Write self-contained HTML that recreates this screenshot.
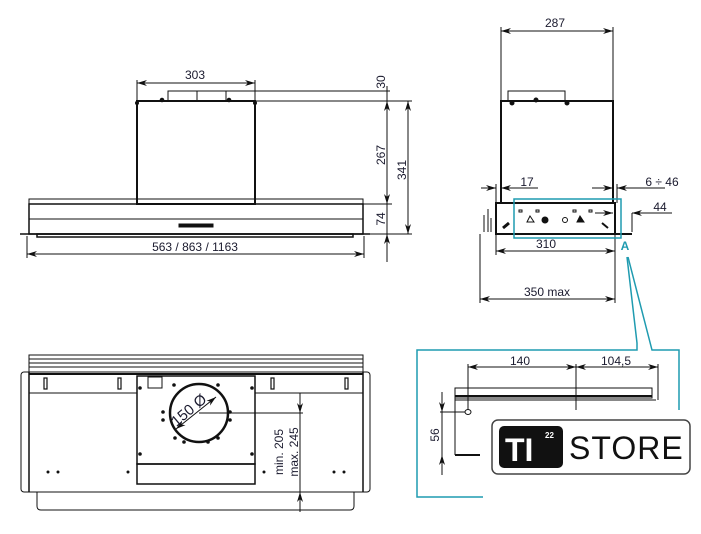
<!DOCTYPE html>
<html><head><meta charset="utf-8"><style>
html,body{margin:0;padding:0;background:#fff;width:701px;height:534px;overflow:hidden}
svg{display:block}
text{font-family:"Liberation Sans",sans-serif;fill:#1a1a2e;font-size:12px}
</style></head><body>
<svg width="701" height="534" viewBox="0 0 701 534" xmlns="http://www.w3.org/2000/svg">
<defs>
<marker id="a" viewBox="0 0 10 6" refX="10" refY="3" markerWidth="10" markerHeight="6" orient="auto-start-reverse" markerUnits="userSpaceOnUse"><path d="M0,0 L10,3 L0,6 L3,3z" fill="#111"/></marker>
</defs>
<g stroke="#111" fill="none" stroke-width="1">
<!-- TOP LEFT front view -->
<rect x="137" y="101" width="118" height="103" stroke-width="2"/>
<rect x="168" y="91" width="58" height="10"/>
<line x1="197" y1="91" x2="197" y2="101"/>
<rect x="29" y="199" width="334" height="5"/>
<rect x="29" y="204" width="334" height="30" stroke-width="1.5"/>
<line x1="29" y1="219" x2="363" y2="219"/>
<rect x="37" y="234" width="316" height="3" stroke-width="1.5"/>
<line x1="20" y1="234" x2="370" y2="234" stroke-width="1.5"/>
<rect x="179" y="224" width="34" height="3" fill="#111"/>
<line x1="137" y1="83" x2="255" y2="83" marker-start="url(#a)" marker-end="url(#a)"/>
<line x1="137" y1="80" x2="137" y2="101"/><line x1="255" y1="80" x2="255" y2="101"/>
<line x1="27" y1="254" x2="364" y2="254" marker-start="url(#a)" marker-end="url(#a)"/>
<line x1="27" y1="236" x2="27" y2="258"/><line x1="364" y1="236" x2="364" y2="258"/>
<line x1="226" y1="91" x2="390" y2="91"/><line x1="255" y1="101" x2="412" y2="101"/>
<line x1="363" y1="204" x2="392" y2="204"/><line x1="370" y1="234" x2="412" y2="234"/>
<line x1="387" y1="86" x2="387" y2="262"/>
<line x1="387" y1="101" x2="387" y2="204" marker-start="url(#a)" marker-end="url(#a)"/>
<line x1="387" y1="234" x2="387" y2="248" marker-start="url(#a)"/>
<line x1="408" y1="101" x2="408" y2="234" marker-start="url(#a)" marker-end="url(#a)"/>
<!-- TOP RIGHT side view -->
<rect x="501" y="101" width="112" height="102" stroke-width="2"/>
<rect x="508" y="91" width="57" height="10"/>
<line x1="501" y1="31" x2="613" y2="31" marker-start="url(#a)" marker-end="url(#a)"/>
<line x1="501" y1="27" x2="501" y2="101"/><line x1="613" y1="27" x2="613" y2="101"/>
<rect x="496" y="203" width="119" height="31" stroke-width="2"/>
<line x1="595" y1="234" x2="632" y2="234" stroke-width="2"/>
<line x1="481" y1="188" x2="496" y2="188" marker-end="url(#a)"/>
<line x1="501" y1="188" x2="538" y2="188" marker-start="url(#a)"/>
<line x1="592" y1="188" x2="613" y2="188" marker-end="url(#a)"/>
<line x1="617" y1="188" x2="665" y2="188" marker-start="url(#a)"/>
<line x1="496" y1="184" x2="496" y2="203"/><line x1="617" y1="184" x2="617" y2="203"/>
<line x1="595" y1="213" x2="613" y2="213" marker-end="url(#a)"/>
<line x1="632" y1="213" x2="672" y2="213" marker-start="url(#a)"/>
<line x1="632" y1="213" x2="632" y2="232"/>
<line x1="496" y1="251" x2="615" y2="251" marker-start="url(#a)" marker-end="url(#a)"/>
<line x1="480" y1="299" x2="615" y2="299" marker-start="url(#a)" marker-end="url(#a)"/>
<line x1="480" y1="234" x2="480" y2="303"/><line x1="615" y1="234" x2="615" y2="303"/>
<line x1="496" y1="234" x2="496" y2="255"/>
<line x1="484" y1="215" x2="484" y2="232"/><line x1="488" y1="209" x2="488" y2="232"/><line x1="491" y1="218" x2="491" y2="232"/>
<circle cx="545" cy="220" r="3" fill="#111"/><circle cx="565" cy="220" r="2.5"/>
<path d="M527,222 l3,-6 l4,6z"/><path d="M577,222 l3,-6 l4,6z" fill="#111"/>
<rect x="519" y="210" width="3" height="2"/><rect x="536" y="210" width="3" height="2"/>
<rect x="573" y="210" width="3" height="2"/><rect x="589" y="210" width="3" height="2"/>
<path d="M503,228 l6,-5" stroke-width="3"/><path d="M602,223 l6,5" stroke-width="2"/>
<circle cx="512" cy="103" r="2" fill="#111"/><circle cx="567" cy="103" r="2" fill="#111"/><circle cx="536" cy="100" r="2" fill="#111"/>
<circle cx="162" cy="100" r="1.8" fill="#111"/><circle cx="229" cy="100" r="1.8" fill="#111"/>
<circle cx="137" cy="103" r="1.5" fill="#111"/><circle cx="255" cy="103" r="1.5" fill="#111"/>
<!-- BOTTOM LEFT plan -->
<rect x="29" y="355" width="334" height="17"/>
<line x1="29" y1="359" x2="363" y2="359"/><line x1="29" y1="363" x2="363" y2="363"/><line x1="29" y1="367" x2="363" y2="367"/>
<rect x="21" y="372" width="349" height="120" rx="3"/>
<line x1="29" y1="372" x2="29" y2="492" stroke-width="1.5"/><line x1="363" y1="372" x2="363" y2="492" stroke-width="1.5"/>
<line x1="29" y1="374" x2="363" y2="374" stroke-width="2"/>
<path d="M37,492 V506 q0,4 4,4 H350 q4,0 4,-4 V492"/>
<line x1="29" y1="393" x2="137" y2="393"/><line x1="255" y1="393" x2="363" y2="393"/>
<g stroke-width="1.2">
<rect x="44" y="378" width="3" height="11"/><rect x="118" y="378" width="3" height="11"/>
<rect x="271" y="378" width="3" height="11"/><rect x="345" y="378" width="3" height="11"/>
</g>
<g fill="#111" stroke="none">
<circle cx="48" cy="472" r="1.5"/><circle cx="58" cy="472" r="1.5"/><circle cx="128" cy="472" r="1.5"/>
<circle cx="264" cy="472" r="1.5"/><circle cx="334" cy="472" r="1.5"/><circle cx="344" cy="472" r="1.5"/>
<circle cx="163" cy="412" r="1.8"/><circle cx="163" cy="420" r="1.8"/><circle cx="230" cy="412" r="1.8"/><circle cx="230" cy="420" r="1.8"/>
<circle cx="175" cy="438" r="1.8"/><circle cx="184" cy="442" r="1.8"/><circle cx="208" cy="442" r="1.8"/><circle cx="218" cy="438" r="1.8"/>
<circle cx="174" cy="385" r="1.8"/><circle cx="218" cy="385" r="1.8"/>
<circle cx="140" cy="388" r="1.8"/><circle cx="252" cy="388" r="1.8"/><circle cx="140" cy="454" r="1.8"/><circle cx="252" cy="454" r="1.8"/>
</g>
<rect x="137" y="376" width="118" height="88" stroke-width="1.5"/>
<rect x="137" y="464" width="118" height="20" stroke-width="1.5"/>
<rect x="148" y="377" width="14" height="11"/>
<circle cx="199" cy="413" r="29" stroke-width="2.5"/>
<line x1="176" y1="429" x2="216" y2="397" marker-start="url(#a)" marker-end="url(#a)"/>
<line x1="199" y1="413" x2="303" y2="413"/>
<line x1="300" y1="393" x2="300" y2="512"/>
<line x1="300" y1="393" x2="300" y2="413" marker-end="url(#a)"/>
<line x1="300" y1="492" x2="300" y2="506" marker-start="url(#a)"/>
<!-- DETAIL -->
<rect x="455" y="388" width="197" height="10"/>
<line x1="455" y1="396" x2="652" y2="396" stroke-width="2"/>
<line x1="455" y1="400" x2="656" y2="400"/>
<line x1="455" y1="388" x2="455" y2="455"/>
<line x1="455" y1="455" x2="480" y2="455" stroke-width="2"/>
<line x1="468" y1="367" x2="576" y2="367" marker-start="url(#a)" marker-end="url(#a)"/>
<line x1="576" y1="367" x2="658" y2="367" marker-start="url(#a)" marker-end="url(#a)"/>
<line x1="468" y1="364" x2="468" y2="410"/><line x1="576" y1="364" x2="576" y2="410"/><line x1="658" y1="364" x2="658" y2="400"/>
<ellipse cx="468" cy="412" rx="3" ry="2.5"/>
<line x1="440" y1="412" x2="465" y2="412"/>
<line x1="442" y1="392" x2="442" y2="475"/>
<line x1="442" y1="392" x2="442" y2="412" marker-end="url(#a)"/>
<line x1="442" y1="455" x2="442" y2="470" marker-start="url(#a)"/>
</g>
<g stroke="#1f9bb0" fill="none" stroke-width="1.5">
<rect x="514" y="199" width="107" height="39"/>
<polyline points="627,257 637,343 637,350 417,350 417,497 492,497"/>
<polyline points="628,257 652,350 679,350 679,410"/>
</g>
<text x="195" y="79" text-anchor="middle">303</text>
<text x="195" y="251" text-anchor="middle">563 / 863 / 1163</text>
<text transform="translate(385,82) rotate(-90)" text-anchor="middle">30</text>
<text transform="translate(385,155) rotate(-90)" text-anchor="middle">267</text>
<text transform="translate(406,170) rotate(-90)" text-anchor="middle">341</text>
<text transform="translate(385,219) rotate(-90)" text-anchor="middle">74</text>
<text x="555" y="27" text-anchor="middle">287</text>
<text x="527" y="186" text-anchor="middle">17</text>
<text x="662" y="186" text-anchor="middle">6 ÷ 46</text>
<text x="660" y="211" text-anchor="middle">44</text>
<text x="546" y="248" text-anchor="middle">310</text>
<text x="547" y="296" text-anchor="middle">350 max</text>
<text x="625" y="250" text-anchor="middle" style="fill:#1f9bb0;font-weight:bold">A</text>
<text transform="translate(192,414) rotate(-40)" text-anchor="middle" style="font-size:15px">150 Ø</text>
<text transform="translate(283,452) rotate(-90)" text-anchor="middle">min. 205</text>
<text transform="translate(298,452) rotate(-90)" text-anchor="middle">max. 245</text>
<text x="520" y="365" text-anchor="middle">140</text>
<text x="616" y="365" text-anchor="middle">104,5</text>
<text transform="translate(439,435) rotate(-90)" text-anchor="middle">56</text>
<!-- logo -->
<rect x="483" y="410" width="218" height="90" fill="#fff"/>
<rect x="492" y="420" width="198" height="54" rx="6" fill="#fff" stroke="#444" stroke-width="1.5"/>
<rect x="499" y="426" width="64" height="42" rx="5" fill="#111"/>
<text x="505" y="461" style="fill:#fff;font-size:32px;font-weight:bold">TI</text>
<text x="545" y="438" style="fill:#fff;font-size:8px;font-weight:bold">22</text>
<text x="569" y="459" style="fill:#111;font-size:32px;letter-spacing:1px">STORE</text>
</svg>
</body></html>
